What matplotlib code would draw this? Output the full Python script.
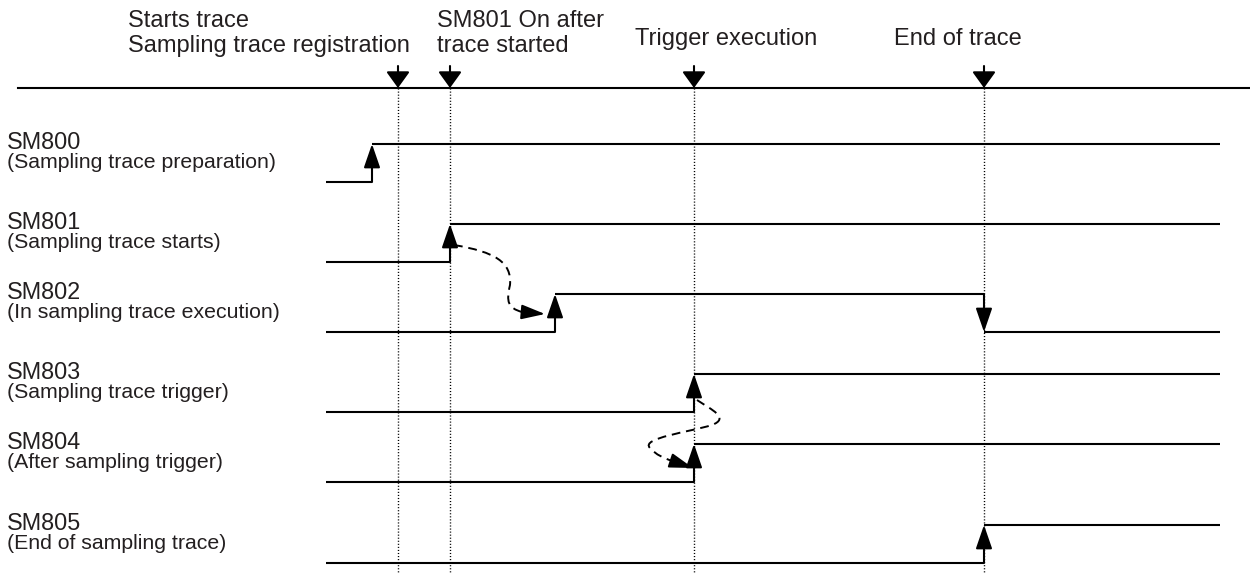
import matplotlib.pyplot as plt
from matplotlib.path import Path
from matplotlib.patches import PathPatch

# events along the time axis (x in the drawing's time units)
event_x = [398, 450, 694, 984]
header_lines = [['Starts trace', 'Sampling trace registration'],
                ['SM801 On after', 'trace started'],
                ['Trigger execution'],
                ['End of trace']]

signal_names = ['SM800', 'SM801', 'SM802', 'SM803', 'SM804', 'SM805']
signal_desc = ['(Sampling trace preparation)', '(Sampling trace starts)',
               '(In sampling trace execution)', '(Sampling trace trigger)',
               '(After sampling trigger)', '(End of sampling trace)']
# edges of each signal: (time, new level)
signal_edges = [
    [(372, 1)],
    [(450, 1)],
    [(555, 1), (984, 0)],
    [(694, 1)],
    [(694, 1)],
    [(984, 1)],
]
t_start, t_end = 326, 1220

# layout
row_low = [182, 262, 332, 412, 482, 563]
row_high = 38
timeline_y = 88
header_x = [128, 437, 635, 894]
text_color = '#231f20'

plt.rcParams['font.family'] = ['Liberation Sans', 'DejaVu Sans']

fig = plt.figure(figsize=(12.5, 5.74), dpi=100)
ax = fig.add_axes([0, 0, 1, 1])
ax.set_xlim(0, 1250)
ax.set_ylim(574, 0)
ax.axis('off')

lw = 1.5
ax.plot([18, 1250], [timeline_y, timeline_y], color='black', lw=lw)

for x in event_x:
    ax.plot([x, x], [timeline_y, 574], color='black', lw=1.0, ls=(0, (0.8, 1.4)))
    ax.annotate('', xy=(x, timeline_y), xytext=(x, 66),
                arrowprops=dict(arrowstyle='-|>,head_length=1.0,head_width=0.72',
                                color='black', lw=lw, shrinkA=0, shrinkB=0))

# header texts (baselines)
for hx, lines in zip(header_x, header_lines):
    ys = [27, 52] if len(lines) == 2 else [45]
    for y, s in zip(ys, lines):
        ax.text(hx, y, s, fontsize=17, va='baseline', ha='left', color=text_color)

edge_arrow = dict(arrowstyle='-|>,head_length=1.45,head_width=0.5',
                  color='black', lw=lw, shrinkA=0, shrinkB=0)

for i, name in enumerate(signal_names):
    low = row_low[i]
    high = low - row_high
    ax.text(7, low - 33, name, fontsize=16.8, va='baseline', ha='left', color=text_color)
    ax.text(7, low - 14, signal_desc[i], fontsize=15.3, va='baseline', ha='left',
            color=text_color)
    level = 0
    t_prev = t_start
    for t, new in signal_edges[i]:
        y = high if level else low
        ax.plot([t_prev, t], [y, y], color='black', lw=lw, solid_capstyle='butt')
        ys, ye = (low, high) if new else (high, low)
        ax.annotate('', xy=(t, ye), xytext=(t, ys), arrowprops=edge_arrow)
        level = new
        t_prev = t
    y = high if level else low
    ax.plot([t_prev, t_end], [y, y], color='black', lw=lw, solid_capstyle='butt')

# dashed causal links
def dashed_link(verts, codes, tip):
    ax.add_patch(PathPatch(Path(verts, codes), fill=False, ec='black', lw=1.4,
                           ls=(0, (4.5, 3))))
    ax.annotate('', xy=tip, xytext=verts[-1],
                arrowprops=dict(arrowstyle='-|>,head_length=1.45,head_width=0.45',
                                color='black', lw=1.4, shrinkA=0, shrinkB=0))

C4 = Path.CURVE4
dashed_link([(454, 245), (495, 252), (512, 262), (510, 285),
             (506, 302), (508, 308), (522, 312)],
            [Path.MOVETO, C4, C4, C4, C4, C4, C4], (545, 314))
dashed_link([(697, 400), (712, 410), (730, 418), (712, 425),
             (690, 432), (640, 438), (650, 448),
             (656, 455), (664, 458), (672, 461)],
            [Path.MOVETO, C4, C4, C4, C4, C4, C4, C4, C4, C4], (693, 468))

fig.savefig('out.png', dpi=100)
